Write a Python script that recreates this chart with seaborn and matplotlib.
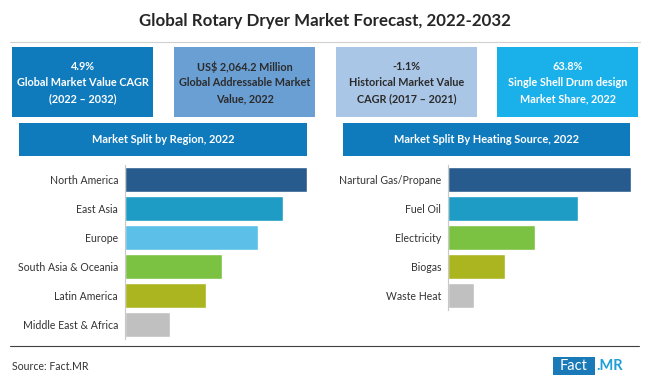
import matplotlib
matplotlib.use("Agg")
import matplotlib.pyplot as plt
from matplotlib.patches import Rectangle
import seaborn as sns
import pandas as pd

# Data (shares, %)
regions = ["North America", "East Asia", "Europe", "South Asia & Oceania",
           "Latin America", "Middle East & Africa"]
region_share = [26.1, 22.7, 19.1, 13.9, 11.6, 6.5]
region_colors = ["#275b8d", "#1f9cc6", "#5cbfe8", "#7cc242", "#aab520", "#c0c0c0"]

sources = ["Nartural Gas/Propane", "Fuel Oil", "Electricity", "Biogas", "Waste Heat"]
source_share = [37.9, 26.9, 18.0, 11.8, 5.4]
source_colors = ["#275b8d", "#1f9cc6", "#7cc242", "#aab520", "#c0c0c0"]

kpi_text = ["4.9%\nGlobal Market Value CAGR\n(2022 \u2013 2032)",
            "US$ 2,064.2 Million\nGlobal Addressable Market\nValue, 2022",
            "-1.1%\nHistorical Market Value\nCAGR (2017 \u2013 2021)",
            "63.8%\nSingle Shell Drum design\nMarket Share, 2022"]
kpi_fill = ["#0f7bbd", "#6a9fd4", "#a9c6e6", "#1ab0ea"]
kpi_fg = ["white", "#2b2b2b", "#2b2b2b", "white"]

title = "Global Rotary Dryer Market Forecast, 2022-2032"
W, H = 650, 385
FONT = "Lato"


def px(x, y, w, h):
    return [x / W, 1 - (y + h) / H, w / W, h / H]


sns.set_style("white")
plt.rcParams["font.family"] = [FONT, "DejaVu Sans"]

fig = plt.figure(figsize=(W / 100, H / 100), dpi=100)
bg = fig.add_axes([0, 0, 1, 1])
bg.set_xlim(0, W)
bg.set_ylim(H, 0)
bg.axis("off")

bg.text(W / 2, 21, title, ha="center", va="center", fontsize=12.2,
        fontweight="bold", color="#262626")
bg.plot([10, 640], [42, 42], color="#d0d0d0", lw=0.8)

# KPI boxes
box_x = [12, 174, 336, 497]
for x, txt, fc, tc in zip(box_x, kpi_text, kpi_fill, kpi_fg):
    bg.add_patch(Rectangle((x, 47), 141, 70, color=fc, lw=0))
    bg.text(x + 70.5, 82.5, txt, ha="center", va="center", fontsize=7.8,
            fontweight="bold", color=tc, linespacing=1.55)

# section headers
for x, w, txt in [(19, 288, "Market Split by Region, 2022"),
                  (343, 287, "Market Split By Heating Source, 2022")]:
    bg.add_patch(Rectangle((x, 123), w, 33, color="#0f7bbd", lw=0))
    bg.text(x + w / 2, 139.5, txt, ha="center", va="center", fontsize=7.9,
            fontweight="bold", color="white")

# footer
bg.plot([10, 639], [346, 346], color="#404040", lw=0.8)
bg.text(12, 366, "Source: Fact.MR", ha="left", va="center", fontsize=7.6,
        color="#333333")
bg.add_patch(Rectangle((553, 357), 42, 18, color="#1a7ab8", lw=0))
bg.text(574, 366.5, "Fact", ha="center", va="center", fontsize=10.5,
        color="white")
bg.text(596, 366.5, ".MR", ha="left", va="center", fontsize=10.5,
        fontweight="bold", color="#1e9fd8")


def bars(rect, cats, vals, colors):
    ax = fig.add_axes(px(*rect))
    df = pd.DataFrame({"cat": cats, "val": vals})
    sns.barplot(data=df, y="cat", x="val", hue="cat", palette=colors,
                legend=False, width=0.86, saturation=1, ax=ax, orient="h")
    ax.set_xlim(0, max(vals))
    ax.set_ylim(len(cats) - 0.5, -0.5)
    ax.set_xlabel("")
    ax.set_ylabel("")
    ax.set_xticks([])
    for s in ["top", "right", "bottom"]:
        ax.spines[s].set_visible(False)
    ax.spines["left"].set_color("#c8c8c8")
    ax.spines["left"].set_linewidth(0.8)
    ax.tick_params(axis="y", length=0, pad=5, labelsize=7.6, labelcolor="#333333")
    ax.patch.set_alpha(0)
    return ax


bars((125, 165, 182, 174), regions, region_share, region_colors)
bars((448, 165, 183, 145), sources, source_share, source_colors)

fig.savefig("out.png", dpi=100)
